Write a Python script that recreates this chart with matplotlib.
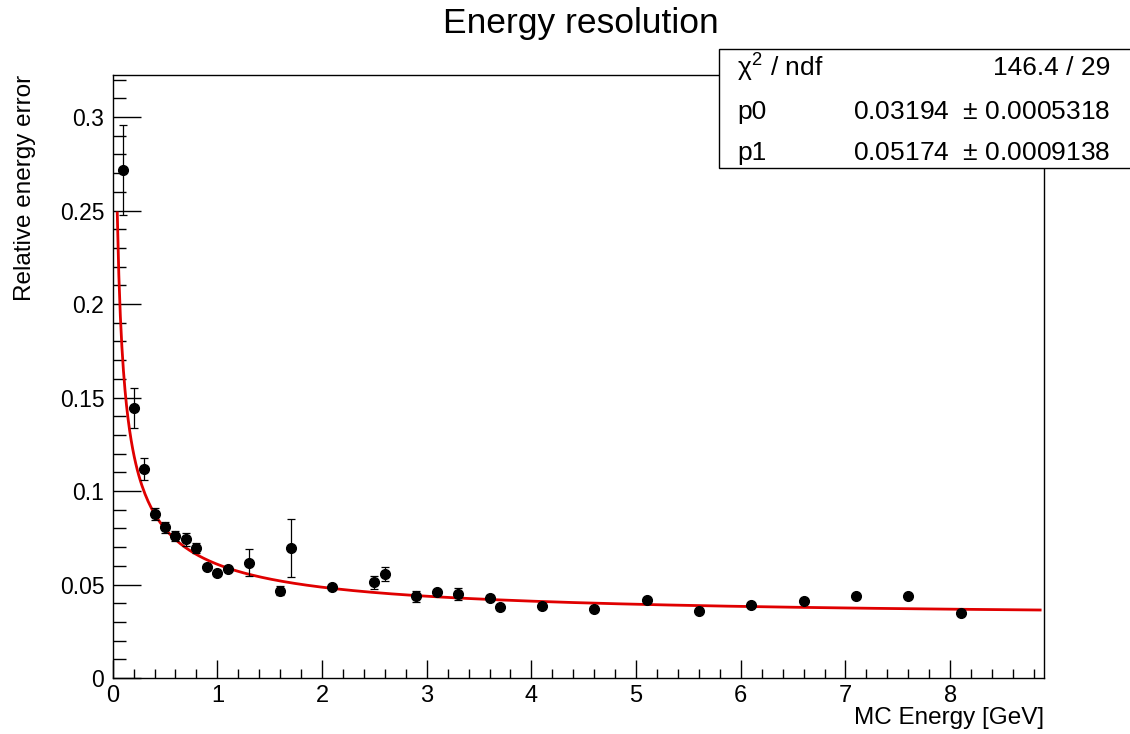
import numpy as np
import matplotlib
matplotlib.use("Agg")
import matplotlib.pyplot as plt
from matplotlib.ticker import MultipleLocator
from matplotlib.patches import Rectangle

# ---- data ----
energy = [0.1, 0.2, 0.3, 0.4, 0.5, 0.6, 0.7, 0.8, 0.9, 1.0, 1.1, 1.3, 1.6, 1.7,
          2.1, 2.5, 2.6, 2.9, 3.1, 3.3, 3.6, 3.7, 4.1, 4.6, 5.1, 5.6, 6.1, 6.6,
          7.1, 7.6, 8.1]
resolution = [0.2718, 0.1442, 0.1118, 0.0878, 0.0805, 0.0759, 0.0741, 0.0695,
              0.0592, 0.0561, 0.0581, 0.0617, 0.0467, 0.0693, 0.0488, 0.0512,
              0.0555, 0.0437, 0.0458, 0.0450, 0.0430, 0.0378, 0.0383, 0.0369,
              0.0417, 0.0358, 0.0389, 0.0410, 0.0440, 0.0440, 0.0346]
errors = [0.0241, 0.0107, 0.0058, 0.0033, 0.0030, 0.0027, 0.0033, 0.0025,
          0.0010, 0.0010, 0.0010, 0.0073, 0.0025, 0.0155, 0.0010, 0.0035,
          0.0037, 0.0030, 0.0012, 0.0033, 0.0015, 0.0012, 0.0010, 0.0008,
          0.0010, 0.0008, 0.0010, 0.0010, 0.0010, 0.0010, 0.0010]
p0, p0_err = 0.03194, 0.0005318
p1, p1_err = 0.05174, 0.0009138
chi2_text = "146.4 / 29"
fit_range = (0.044, 8.86)

title = "Energy resolution"
xlabel = "MC Energy [GeV]"
ylabel = "Relative energy error"

plt.rcParams['font.family'] = ['Liberation Sans', 'DejaVu Sans']
plt.rcParams['mathtext.fontset'] = 'custom'
plt.rcParams['mathtext.rm'] = 'Liberation Sans'
plt.rcParams['mathtext.it'] = 'Liberation Sans'

fig = plt.figure(figsize=(11.3, 7.34), dpi=100)
ax = fig.add_axes([0.0997, 0.0763, 0.8245, 0.8215])

# data points
ax.errorbar(energy, resolution, yerr=errors, fmt='o', color='black',
            markersize=7, elinewidth=0.9, capsize=3.2, capthick=0.9,
            zorder=3)

# fit function: sqrt(p0^2 + p1^2/E)
xf = np.linspace(fit_range[0], fit_range[1], 600)
yf = np.sqrt(p0**2 + p1**2 / xf)
ax.plot(xf, yf, color='#e00000', lw=2, zorder=2)

ax.set_xlim(0, 8.9)
ax.set_ylim(0, 0.3225)
ax.xaxis.set_major_locator(MultipleLocator(1))
ax.xaxis.set_minor_locator(MultipleLocator(0.2))
ax.yaxis.set_major_locator(MultipleLocator(0.05))
ax.yaxis.set_minor_locator(MultipleLocator(0.01))
ax.yaxis.set_major_formatter(plt.FuncFormatter(lambda v, p: f"{v:g}"))

ax.tick_params(axis='x', which='major', direction='in', length=13, width=1,
               labelsize=17, pad=5, top=False)
ax.tick_params(axis='x', which='minor', direction='in', length=6.5, width=1,
               top=False)
ax.tick_params(axis='y', which='major', direction='in', length=20, width=1,
               labelsize=16.5, pad=6, right=False)
ax.tick_params(axis='y', which='minor', direction='in', length=9.5, width=1,
               right=False)
for s in ax.spines.values():
    s.set_linewidth(1)

fig.text(0.514, 0.968, title, ha='center', va='center', fontsize=25.5)
fig.text(0.9242, 0.022, xlabel, ha='right', va='center', fontsize=17.5)
fig.text(0.022, 0.898, ylabel, ha='center', va='top', rotation=90,
         fontsize=17.5)

# stats box
box = Rectangle((719 / 1130, (734 - 168) / 734), 0.5, (168 - 49) / 734,
                transform=fig.transFigure, facecolor='white',
                edgecolor='black', lw=1, zorder=10)
fig.patches.append(box)
xl = 737 / 1130
xr = 1110 / 1130
rows = [(68, r"$\chi^{2}$ / ndf", chi2_text),
        (112, "p0", f"{p0:.5f}  $\\pm$ {p0_err:.7f}"),
        (153, "p1", f"{p1:.5f}  $\\pm$ {p1_err:.7f}")]
for ypx, lab, val in rows:
    yy = 1 - ypx / 734
    fig.text(xl, yy, lab, ha='left', va='center', fontsize=19, zorder=11)
    fig.text(xr, yy, val, ha='right', va='center', fontsize=19, zorder=11)

fig.savefig("out.png", dpi=100)
